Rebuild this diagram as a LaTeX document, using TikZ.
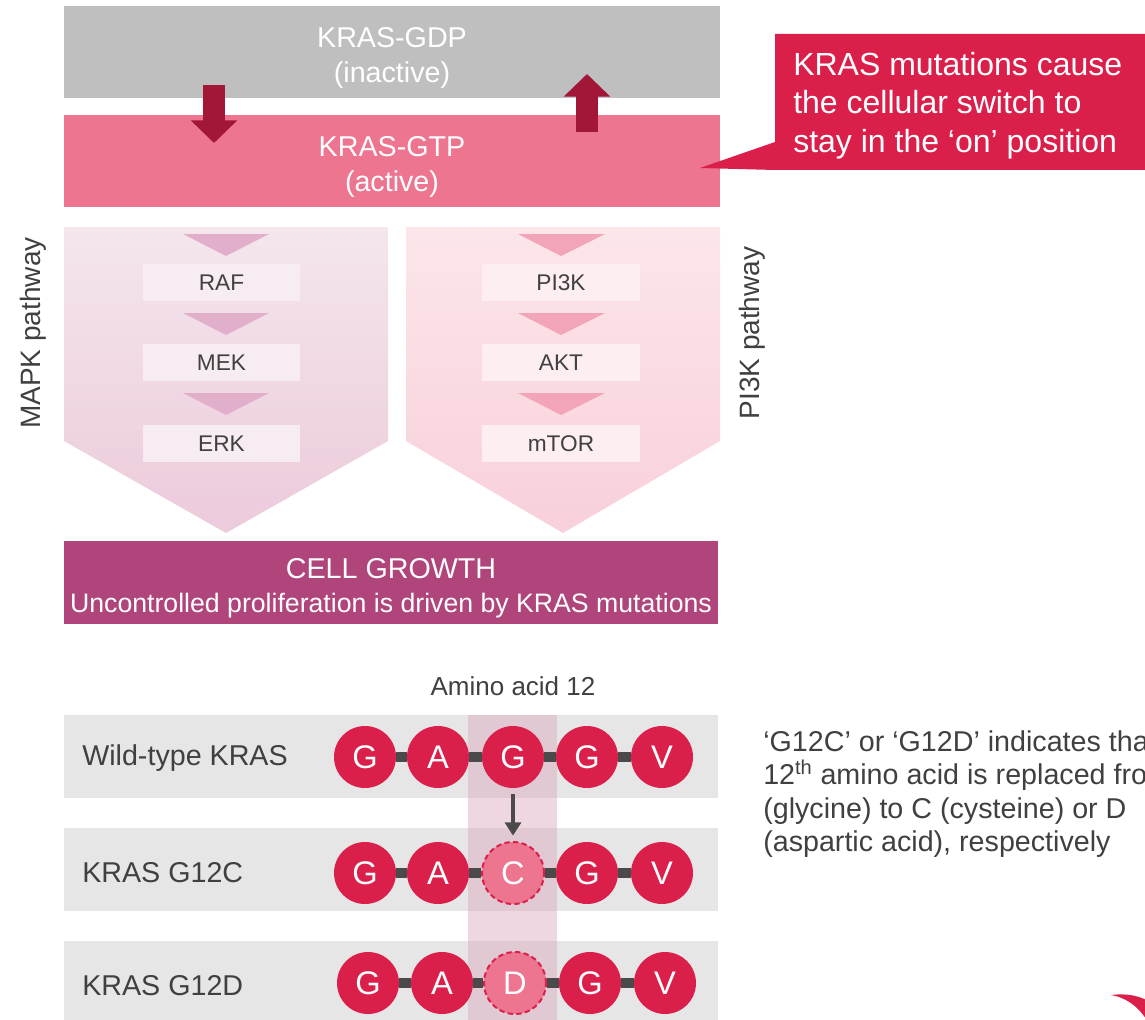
\documentclass[tikz,border=0pt]{standalone}
\usepackage{fontspec}
\setmainfont{Liberation Sans}
\usetikzlibrary{arrows.meta}
\definecolor{gdpgray}{HTML}{BFBFBF}
\definecolor{gtppink}{HTML}{EE7590}
\definecolor{switchred}{HTML}{A21737}
\definecolor{krasred}{HTML}{DA1F4B}
\definecolor{darktext}{HTML}{404040}
\definecolor{growthpurple}{HTML}{B0457B}
\definecolor{rowgray}{HTML}{E6E6E6}
\definecolor{bondgray}{HTML}{4A4A4A}
\definecolor{mapktop}{HTML}{F4E6ED}
\definecolor{mapkbot}{HTML}{ECCADB}
\definecolor{pitop}{HTML}{FCE6EA}
\definecolor{pibot}{HTML}{F8D0DA}
\definecolor{mapktri}{HTML}{E1AFCA}
\definecolor{pitri}{HTML}{F2A5B8}
\definecolor{mapkbox}{HTML}{F7ECF2}
\definecolor{pibox}{HTML}{FDEEF1}
\definecolor{colpink}{HTML}{DCA8C0}
\newcommand*\fs[2]{\fontsize{#1}{#2}\selectfont}

\tikzset{
  statetext/.style={text=white, align=center, yshift=-4.5pt, font=\fs{21.5pt}{26pt}},
  switcharrow/.style={draw=switchred, line width=17pt, -{Triangle[width=34pt,length=17pt]}},
  enzyme/.style={text=darktext, font=\fs{17pt}{20pt}},
  pathlabel/.style={text=darktext, rotate=90, font=\fs{21pt}{25pt}},
  rowlabel/.style={text=darktext, anchor=west, inner sep=0pt, font=\fs{21.5pt}{26pt}},
  aacirc/.style={circle, fill=krasred, text=white, minimum size=46.5pt, inner sep=0pt, font=\fs{24.5pt}{28pt}},
  mutcirc/.style={aacirc, fill=gtppink, draw=krasred, line width=1.5pt, dash pattern=on 4pt off 2.5pt},
  bond/.style={draw=bondgray, line width=7.5pt},
}

\begin{document}
\begin{tikzpicture}[x=0.75pt, y=-0.75pt]
\clip (0,0) rectangle (1145,1020);

% switch states
\fill[gdpgray] (64,6) rectangle node[statetext] (gdp) {KRAS-GDP\\(inactive)} (720,98);
\fill[gtppink] (64,115) rectangle node[statetext] (gtp) {KRAS-GTP\\(active)} (720,207);
\coordinate (ontop) at (214,85);
\coordinate (ontip) at (214,143);
\coordinate (offbot) at (587,132);
\coordinate (offtip) at (587,74);
\draw[switcharrow] (ontop) -- (ontip);
\draw[switcharrow] (offbot) -- (offtip);

% callout
\fill[krasred] (775,34) -- (1150,34) -- (1150,170) -- (775,170) -- (700,168) -- (775,142) -- cycle;
\node[text=white, anchor=west, align=left, inner sep=0pt, font=\fs{24pt}{29pt}] (callout) at (793,105.5)
  {KRAS mutations cause\\the cellular switch to\\stay in the ‘on’ position};

% pathways
\shade[top color=mapktop, bottom color=mapkbot] (64,227) -- (388,227) -- (388,441) -- (226,533) -- (64,441) -- cycle;
\shade[top color=pitop, bottom color=pibot] (406,227) -- (720,227) -- (720,441) -- (563,533) -- (406,441) -- cycle;
\foreach \y in {234,313,393} {
  \fill[mapktri] (183,\y) -- (269,\y) -- (226,\y+22) -- cycle;
  \fill[pitri] (518,\y) -- (605,\y) -- (561,\y+22) -- cycle;
}
\foreach \y/\a/\b in {264/RAF/PI3K,344/MEK/AKT,425/ERK/mTOR} {
  \fill[mapkbox] (143,\y) rectangle node[enzyme] (\a) {\a} (300,\y+37);
  \fill[pibox] (482,\y) rectangle node[enzyme] (\b) {\b} (640,\y+37);
}
\node[pathlabel] (mapk) at (33,333) {MAPK pathway};
\node[pathlabel] (pi3k) at (752,333) {PI3K pathway};

% outcome
\fill[growthpurple] (64,541) rectangle node[text=white, align=center, yshift=-4pt, font=\fs{20pt}{25.5pt}] (growth)
  {{\fs{21.5pt}{25.5pt}CELL GROWTH}\\Uncontrolled proliferation is driven by KRAS mutations} (718,624);

% amino acid sequences
\node[text=darktext, font=\fs{19.5pt}{24pt}] (aa12) at (513,686) {Amino acid 12};
\fill[rowgray] (64,715) rectangle (718,798);
\fill[rowgray] (64,828) rectangle (718,911);
\fill[rowgray] (64,941) rectangle (718,1025);
\fill[colpink, fill opacity=.46] (468,715) rectangle (557,1025);
\node[rowlabel] (wt) at (82,758) {Wild-type KRAS};
\node[rowlabel] (g12c) at (82,873) {KRAS G12C};
\node[rowlabel] (g12d) at (82,986) {KRAS G12D};

\foreach \x/\l/\s [count=\i] in {365/G/aacirc,438/A/aacirc,513/G/aacirc,587/G/aacirc,662/V/aacirc}
  \node[\s] (w\i) at (\x,757) {\l};
\foreach \x/\l/\s [count=\i] in {365/G/aacirc,438/A/aacirc,513/C/mutcirc,587/G/aacirc,662/V/aacirc}
  \node[\s] (c\i) at (\x,873) {\l};
\foreach \x/\l/\s [count=\i] in {368/G/aacirc,442/A/aacirc,515/D/mutcirc,590/G/aacirc,665/V/aacirc}
  \node[\s] (d\i) at (\x,983) {\l};
\foreach \r in {w,c,d}
  \foreach \i/\j in {1/2,2/3,3/4,4/5}
    \draw[bond] (\r\i) -- (\r\j);
\draw[draw=bondgray, line width=3pt, shorten <=4pt, shorten >=4pt, -{Triangle[width=12pt,length=10pt]}] (w3) -- (c3);

% note
\node[text=darktext, anchor=west, align=left, inner sep=0pt, font=\fs{21.5pt}{25pt}] (note) at (763,794)
  {‘G12C’ or ‘G12D’ indicates that\\12\textsuperscript{th} amino acid is replaced from\\(glycine) to C (cysteine) or D\\(aspartic acid), respectively};

% logo corner
\fill[krasred] (1111,995) .. controls (1128,993) and (1140,996) .. (1150,1002) -- (1150,1025) .. controls (1140,1008) and (1128,998) .. cycle;
\end{tikzpicture}
\end{document}
